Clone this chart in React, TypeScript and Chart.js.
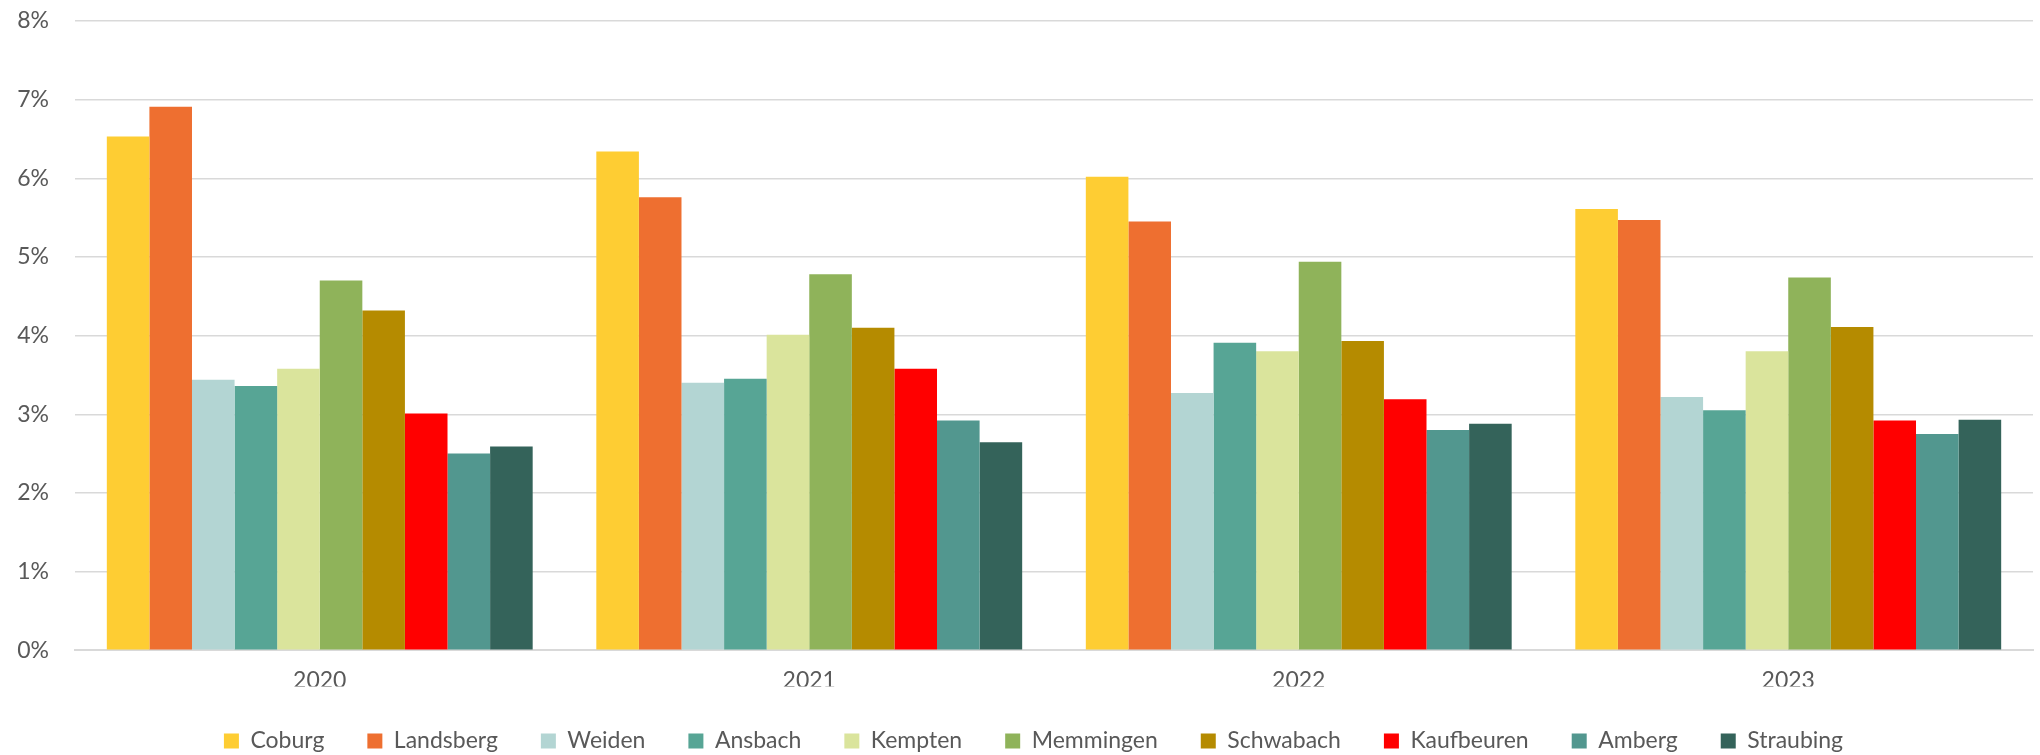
import React, { useEffect, useRef } from "react";
import { Chart, registerables } from "chart.js";

Chart.register(...registerables);

const years = ["2020", "2021", "2022", "2023"];
const cities = ["Coburg", "Landsberg", "Weiden", "Ansbach", "Kempten", "Memmingen", "Schwabach", "Kaufbeuren", "Amberg", "Straubing"];
const colors = ["#FECD33", "#EE6F30", "#B3D5D3", "#57A595", "#DAE49C", "#8FB35A", "#B58B00", "#FF0000", "#52978F", "#34635A"];

const coburg = [6.53, 6.34, 6.02, 5.61];
const landsberg = [6.91, 5.76, 5.45, 5.47];
const weiden = [3.44, 3.40, 3.27, 3.22];
const ansbach = [3.36, 3.45, 3.91, 3.05];
const kempten = [3.58, 4.01, 3.80, 3.80];
const memmingen = [4.70, 4.78, 4.94, 4.74];
const schwabach = [4.32, 4.10, 3.93, 4.11];
const kaufbeuren = [3.01, 3.58, 3.19, 2.92];
const amberg = [2.50, 2.92, 2.80, 2.75];
const straubing = [2.59, 2.645, 2.88, 2.93];

const series = [coburg, landsberg, weiden, ansbach, kempten, memmingen, schwabach, kaufbeuren, amberg, straubing];
const yTicks = [0, 1, 2, 3, 4, 5, 6, 7, 8];

const legendShift = {
  id: "legendShift",
  afterLayout(chart: any) {
    const l = chart.legend;
    if (l) { l.left += 17; l.right += 17; }
  },
};

export default function App() {
  const ref = useRef<HTMLCanvasElement | null>(null);
  useEffect(() => {
    document.body.style.margin = "0";
    const font = { family: "Lato, 'Open Sans', sans-serif", size: 23 };
    const chart = new Chart(ref.current as HTMLCanvasElement, {
      type: "bar",
      data: {
        labels: years,
        datasets: cities.map((c, i) => ({
          label: c,
          data: series[i],
          backgroundColor: colors[i],
          borderWidth: 0,
          barPercentage: 1,
          categoryPercentage: 0.87,
        })),
      },
      plugins: [legendShift],
      options: {
        animation: false,
        responsive: false,
        layout: { padding: { left: 0, right: 7, top: 21, bottom: -7.5 } },
        plugins: {
          legend: {
            position: "bottom",
            labels: { font, color: "#595959", boxWidth: 15, boxHeight: 15, padding: 43 },
          },
          tooltip: { enabled: false },
        },
        scales: {
          x: {
            afterFit: (s: any) => { s.height = 36.3; },
            grid: { display: false, drawTicks: false },
            border: { display: true, color: "#D9D9D9", width: 2 },
            ticks: { font, color: "#595959", padding: 17 },
          },
          y: {
            min: 0,
            max: 8,
            afterFit: (s: any) => { s.width = 75; s.paddingTop = 0; s.paddingBottom = 0; },
            afterBuildTicks: (s: any) => { s.ticks = yTicks.map((v) => ({ value: v })); },
            grid: { color: "#D9D9D9", lineWidth: 1.5, drawTicks: false },
            border: { display: false },
            ticks: { font, color: "#595959", padding: 26, callback: (v: any) => v + "%" },
          },
        },
      },
    });
    return () => chart.destroy();
  }, []);
  return (
    <div style={{ width: 2040, height: 755 }}>
      <canvas ref={ref} width={2040} height={755} />
    </div>
  );
}
